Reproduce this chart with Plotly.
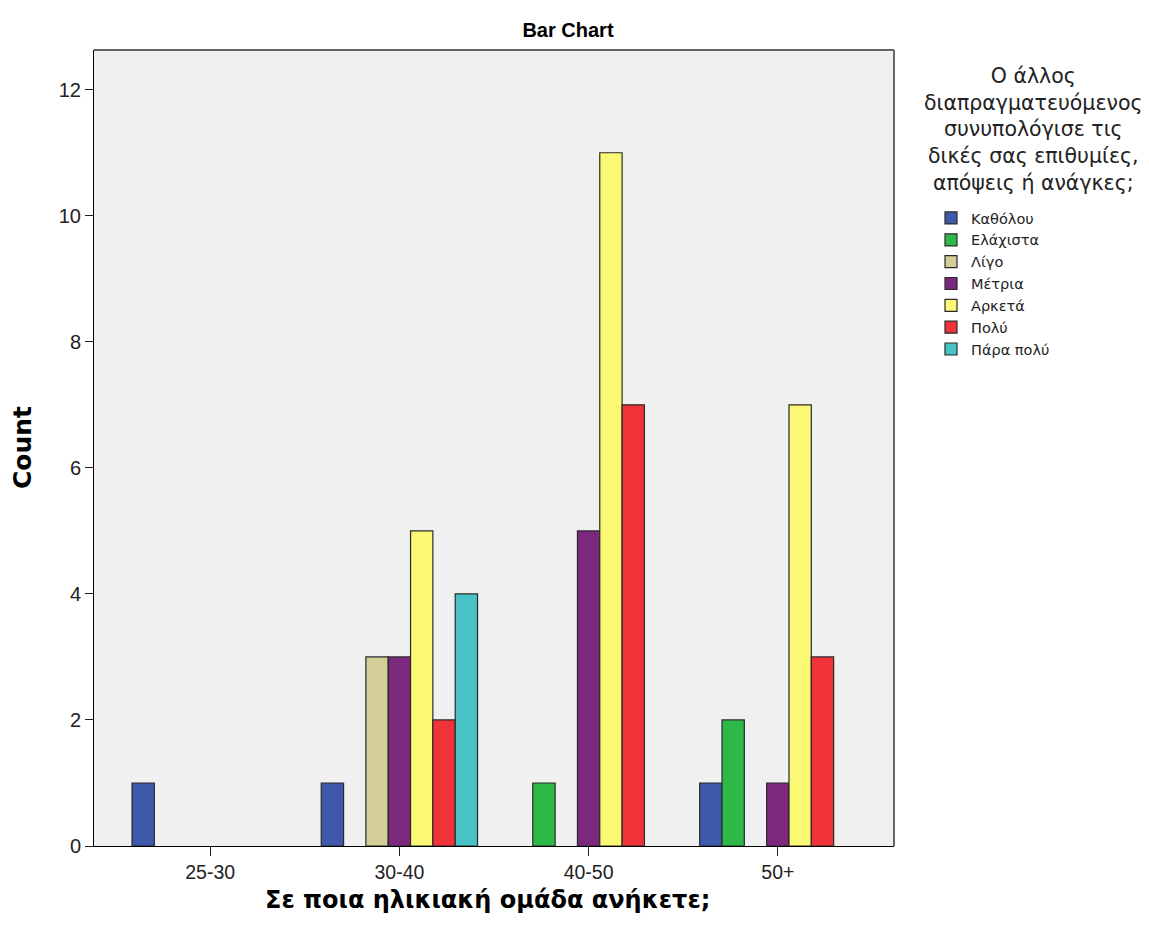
import plotly.graph_objects as go

categories = ["25-30", "30-40", "40-50", "50+"]
series_names = ["Καθόλου", "Ελάχιστα", "Λίγο", "Μέτρια", "Αρκετά", "Πολύ", "Πάρα πολύ"]
katholou = [1, 1, None, 1]
elaxista = [None, None, 1, 2]
ligo = [None, 3, None, None]
metria = [None, 3, 5, 1]
arketa = [None, 5, 11, 7]
poly = [None, 2, 7, 3]
para_poly = [None, 4, None, None]
series_values = [katholou, elaxista, ligo, metria, arketa, poly, para_poly]
colors = ["#3E58AC", "#2EB848", "#D3CE97", "#7C287D", "#FBF873", "#EF3338", "#48C2C5"]

OFF = 8  # page body margin
W, H = 1149 - OFF, 934 - OFF
# plot area in screen pixels
SL, SR, ST, SB = 94, 894, 50, 846
L, R, T, B = SL - OFF, SR - OFF, ST - OFF, SB - OFF

def px(xs):
    return (xs - SL) / (SR - SL)

def py(ys):
    return (SB - ys) / (SB - ST)

FONT = "Liberation Sans, Arial, sans-serif"
WIDE = "DejaVu Sans, Verdana, sans-serif"

fig = go.Figure()
for name, vals, col in zip(series_names, series_values, colors):
    fig.add_trace(go.Bar(
        x=categories, y=vals, name=name,
        marker=dict(color=col, line=dict(color="#2a2a2a", width=1.2)),
    ))

fig.update_layout(
    width=W, height=H,
    margin=dict(l=L, r=W - R, t=T, b=H - B, autoexpand=False),
    paper_bgcolor="white",
    plot_bgcolor="#F0F0F0",
    barmode="group",
    bargap=0.174,
    bargroupgap=0,
    font=dict(family=FONT, color="#222222"),
    title=dict(text="<b>Bar Chart</b>", x=(568 - OFF) / W, xref="container", xanchor="center",
               y=1 - (30 - OFF) / H, yref="container", yanchor="middle",
               font=dict(size=20, color="#000000", family=FONT)),
    showlegend=True,
    legend=dict(x=px(931), xanchor="left", y=py(202), yanchor="top",
                font=dict(size=14.5, color="#222222", family=WIDE),
                bgcolor="rgba(0,0,0,0)", borderwidth=0, tracegroupgap=0),
)

fig.update_xaxes(
    type="category", range=[-0.614, 3.614],
    showline=True, linecolor="#000000", linewidth=1,
    ticks="outside", ticklen=9, tickcolor="#222222", tickwidth=1,
    showgrid=False, zeroline=False,
    tickfont=dict(size=19.5, color="#222222", family=FONT),
)
fig.update_yaxes(
    range=[0, 12.63], dtick=2, tick0=0,
    showline=True, linecolor="#000000", linewidth=1,
    ticks="outside", ticklen=8, tickcolor="#222222", tickwidth=1,
    showgrid=False, zeroline=False,
    tickfont=dict(size=20, color="#222222", family=FONT),
)

# plot frame (top/right border)
fig.add_shape(type="line", xref="paper", yref="paper", x0=0, x1=1, y0=1, y1=1,
              line=dict(color="#666666", width=2))
fig.add_shape(type="line", xref="paper", yref="paper", x0=1, x1=1, y0=0, y1=1,
              line=dict(color="#666666", width=2))

# axis titles
fig.add_annotation(text="<b>Σε ποια ηλικιακή ομάδα ανήκετε;</b>", xref="paper", yref="paper",
                   x=px(487), y=py(900), xanchor="center", yanchor="middle",
                   showarrow=False, font=dict(size=24, color="#000000", family=WIDE))
fig.add_annotation(text="<b>Count</b>", xref="paper", yref="paper",
                   x=px(22), y=py(448), xanchor="center", yanchor="middle",
                   textangle=-90, showarrow=False, font=dict(size=25, color="#000000", family=WIDE))

# legend title
fig.add_annotation(text="Ο άλλος<br>διαπραγματευόμενος<br>συνυπολόγισε τις<br>δικές σας επιθυμίες,<br>απόψεις ή ανάγκες;",
                   xref="paper", yref="paper", x=px(1033), y=py(62),
                   xanchor="center", yanchor="top", align="center", showarrow=False,
                   font=dict(size=20.5, color="#222222", family=WIDE))

fig.write_html("out.html")
